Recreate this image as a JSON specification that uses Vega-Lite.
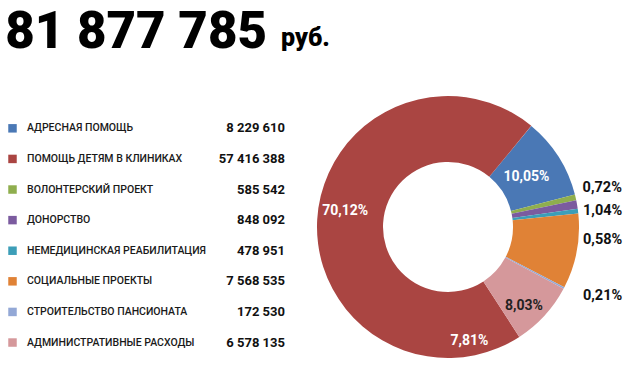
{
  "$schema": "https://vega.github.io/schema/vega-lite/v6.json",
  "padding": 0,
  "bounds": "flush",
  "spacing": 16,
  "config": {
    "view": {"stroke": null},
    "font": "Roboto",
    "locale": {"number": {"decimal": ",", "thousands": " ", "grouping": [3], "currency": ["", " руб."]}}
  },
  "datasets": {
    "items": [
      {"cat": "АДРЕСНАЯ ПОМОЩЬ", "v": 8229610, "ord": 1, "pct": "10,05%"},
      {"cat": "ПОМОЩЬ ДЕТЯМ В КЛИНИКАХ", "v": 57416388, "ord": 8, "pct": "70,12%"},
      {"cat": "ВОЛОНТЕРСКИЙ ПРОЕКТ", "v": 585542, "ord": 2, "pct": "0,72%"},
      {"cat": "ДОНОРСТВО", "v": 848092, "ord": 3, "pct": "1,04%"},
      {"cat": "НЕМЕДИЦИНСКАЯ РЕАБИЛИТАЦИЯ", "v": 478951, "ord": 4, "pct": "0,58%"},
      {"cat": "СОЦИАЛЬНЫЕ ПРОЕКТЫ", "v": 7568535, "ord": 5, "pct": ""},
      {"cat": "СТРОИТЕЛЬСТВО ПАНСИОНАТА", "v": 172530, "ord": 6, "pct": "0,21%"},
      {"cat": "АДМИНИСТРАТИВНЫЕ РАСХОДЫ", "v": 6578135, "ord": 7, "pct": "8,03%"}
    ]
  },
  "vconcat": [
    {
      "width": 530,
      "height": 80,
      "data": {"values": [{"num": "81 877 785", "unit": "руб."}]},
      "layer": [
        {
          "mark": {"type": "text", "align": "right", "baseline": "alphabetic", "fontSize": 51, "fontWeight": 900, "font": "Roboto", "fill": "#000", "dx": 2, "dy": 8},
          "encoding": {"text": {"field": "num", "type": "nominal"}}
        },
        {
          "mark": {"type": "text", "align": "left", "baseline": "alphabetic", "fontSize": 25, "fontWeight": 900, "font": "Roboto", "fill": "#000", "dx": 16, "dy": 6},
          "encoding": {"text": {"field": "unit", "type": "nominal"}}
        }
      ]
    },
    {
      "bounds": "flush",
      "spacing": 10,
      "hconcat": [
        {
          "width": 290,
          "height": 262,
          "data": {"name": "items"},
          "encoding": {
            "y": {"field": "cat", "type": "nominal", "sort": null, "axis": null,
                  "scale": {"type": "band", "paddingInner": 0, "paddingOuter": 0.281, "align": 0.99}}
          },
          "layer": [
            {
              "mark": {"type": "square", "size": 72, "opacity": 1, "xOffset": -132.5},
              "encoding": {
                "color": {"field": "cat", "type": "nominal", "legend": null,
                  "scale": {
                    "domain": ["АДРЕСНАЯ ПОМОЩЬ", "ПОМОЩЬ ДЕТЯМ В КЛИНИКАХ", "ВОЛОНТЕРСКИЙ ПРОЕКТ", "ДОНОРСТВО", "НЕМЕДИЦИНСКАЯ РЕАБИЛИТАЦИЯ", "СОЦИАЛЬНЫЕ ПРОЕКТЫ", "СТРОИТЕЛЬСТВО ПАНСИОНАТА", "АДМИНИСТРАТИВНЫЕ РАСХОДЫ"],
                    "range": ["#4A78B5", "#AA4542", "#8FAE4E", "#7B5B9F", "#3C9EB8", "#E08236", "#93A8D6", "#D5989B"]
                  }}
              }
            },
            {
              "mark": {"type": "text", "align": "left", "baseline": "middle", "font": "Roboto", "fontSize": 10.5, "fontWeight": 500, "fill": "#1a1a1a", "dx": -118},
              "encoding": {"text": {"field": "cat", "type": "nominal"}}
            },
            {
              "mark": {"type": "text", "align": "right", "baseline": "middle", "fontSize": 13, "fontWeight": "bold", "fill": "#111", "dx": 140},
              "encoding": {"text": {"field": "v", "type": "quantitative", "format": ",d"}}
            }
          ]
        },
        {
          "width": 296,
          "height": 262,
          "data": {"name": "items"},
          "encoding": {
            "theta": {"field": "v", "type": "quantitative", "stack": true, "scale": {"range": [0.689, 6.972]}},
            "order": {"field": "ord", "type": "quantitative"},
            "detail": {"field": "cat", "type": "nominal"}
          },
          "layer": [
            {
              "mark": {"type": "arc", "outerRadius": 131, "innerRadius": 65},
              "encoding": {
                "color": {"field": "cat", "type": "nominal", "legend": null,
                  "scale": {
                    "domain": ["АДРЕСНАЯ ПОМОЩЬ", "ПОМОЩЬ ДЕТЯМ В КЛИНИКАХ", "ВОЛОНТЕРСКИЙ ПРОЕКТ", "ДОНОРСТВО", "НЕМЕДИЦИНСКАЯ РЕАБИЛИТАЦИЯ", "СОЦИАЛЬНЫЕ ПРОЕКТЫ", "СТРОИТЕЛЬСТВО ПАНСИОНАТА", "АДМИНИСТРАТИВНЫЕ РАСХОДЫ"],
                    "range": ["#4A78B5", "#AA4542", "#8FAE4E", "#7B5B9F", "#3C9EB8", "#E08236", "#93A8D6", "#D5989B"]
                  }}
              }
            },
            {
              "mark": {"type": "text", "radius": 93, "fontSize": 14, "fontWeight": "bold", "fill": "#fff", "baseline": "middle"},
              "encoding": {"text": {"condition": {"test": "datum.ord === 1", "field": "pct", "type": "nominal"}, "value": ""}}
            },
            {
              "mark": {"type": "text", "radius": 103, "fontSize": 14, "fontWeight": "bold", "fill": "#fff", "baseline": "middle", "dy": -10},
              "encoding": {"text": {"condition": {"test": "datum.ord === 8", "field": "pct", "type": "nominal"}, "value": ""}}
            },
            {
              "mark": {"type": "text", "radius": 110, "fontSize": 14, "fontWeight": "bold", "fill": "#222", "baseline": "middle", "dx": -5, "dy": 5},
              "encoding": {"text": {"condition": {"test": "datum.ord === 7", "field": "pct", "type": "nominal"}, "value": ""}}
            },
            {
              "mark": {"type": "text", "radius": 116, "fontSize": 14, "fontWeight": "bold", "fill": "#fff", "baseline": "middle", "dx": -64, "dy": 36},
              "encoding": {"text": {"condition": {"test": "datum.ord === 7", "value": "7,81%"}, "value": ""}}
            },
            {
              "mark": {"type": "text", "radius": 131, "fontSize": 14.5, "fontWeight": "bold", "fill": "#111", "align": "left", "baseline": "alphabetic", "dx": 7, "dy": -5},
              "encoding": {"text": {"condition": {"test": "datum.ord === 2", "field": "pct", "type": "nominal"}, "value": ""}}
            },
            {
              "mark": {"type": "text", "radius": 131, "fontSize": 14.5, "fontWeight": "bold", "fill": "#111", "align": "left", "baseline": "alphabetic", "dx": 6, "dy": 10.5},
              "encoding": {"text": {"condition": {"test": "datum.ord === 3", "field": "pct", "type": "nominal"}, "value": ""}}
            },
            {
              "mark": {"type": "text", "radius": 131, "fontSize": 14.5, "fontWeight": "bold", "fill": "#111", "align": "left", "baseline": "alphabetic", "dx": 5, "dy": 33},
              "encoding": {"text": {"condition": {"test": "datum.ord === 4", "field": "pct", "type": "nominal"}, "value": ""}}
            },
            {
              "mark": {"type": "text", "radius": 131, "fontSize": 14.5, "fontWeight": "bold", "fill": "#111", "align": "left", "baseline": "alphabetic", "dx": 19, "dy": 12},
              "encoding": {"text": {"condition": {"test": "datum.ord === 6", "field": "pct", "type": "nominal"}, "value": ""}}
            }
          ]
        }
      ]
    }
  ]
}
